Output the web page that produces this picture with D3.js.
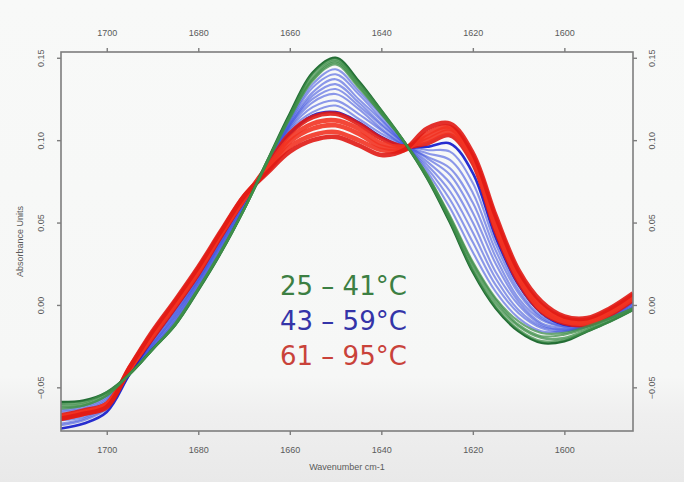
<!DOCTYPE html>
<html>
<head>
<meta charset="utf-8">
<script src="https://cdn.jsdelivr.net/npm/d3@7"></script>
<style>
  html, body { margin: 0; padding: 0; background: #f8f9f8; }
  svg { display: block; }
</style>
</head>
<body>
<svg id="chart" width="684" height="482"></svg>
<script>
// ---------- data ----------
const wavenumbers = [1710,1705,1700,1695,1690,1685,1680,1675,1670,1665,1660,1655,1650,1645,1640,1635,1630,1625,1620,1615,1610,1605,1600,1595,1590,1585];

const green25 = [-0.059,-0.058,-0.053,-0.042,-0.027,-0.012,0.009,0.032,0.058,0.087,0.116,0.141,0.150,0.136,0.118,0.099,0.077,0.050,0.020,-0.002,-0.016,-0.023,-0.022,-0.016,-0.010,-0.003];
const green29 = [-0.060,-0.059,-0.053,-0.042,-0.027,-0.012,0.009,0.032,0.058,0.087,0.115,0.140,0.149,0.135,0.118,0.099,0.077,0.051,0.021,-0.001,-0.015,-0.022,-0.021,-0.016,-0.010,-0.003];
const green33 = [-0.061,-0.060,-0.054,-0.042,-0.027,-0.012,0.010,0.032,0.058,0.087,0.114,0.138,0.148,0.134,0.117,0.099,0.078,0.052,0.023,0.001,-0.013,-0.020,-0.020,-0.015,-0.009,-0.003];
const green37 = [-0.062,-0.061,-0.055,-0.042,-0.027,-0.011,0.010,0.033,0.058,0.086,0.114,0.137,0.147,0.133,0.116,0.099,0.079,0.053,0.025,0.003,-0.012,-0.019,-0.018,-0.014,-0.008,-0.002];
const green41 = [-0.063,-0.061,-0.055,-0.042,-0.027,-0.011,0.010,0.033,0.058,0.086,0.113,0.136,0.146,0.132,0.116,0.099,0.079,0.054,0.026,0.004,-0.010,-0.017,-0.017,-0.013,-0.008,-0.002];

const blue43 = [-0.064,-0.062,-0.056,-0.042,-0.026,-0.010,0.011,0.034,0.059,0.086,0.112,0.134,0.143,0.130,0.115,0.099,0.081,0.059,0.032,0.008,-0.008,-0.016,-0.016,-0.013,-0.008,-0.002];
const blue45 = [-0.065,-0.063,-0.057,-0.042,-0.026,-0.009,0.012,0.035,0.059,0.086,0.111,0.132,0.140,0.128,0.113,0.098,0.083,0.064,0.038,0.012,-0.005,-0.014,-0.016,-0.013,-0.008,-0.001];
const blue47 = [-0.067,-0.064,-0.058,-0.042,-0.025,-0.008,0.013,0.036,0.060,0.085,0.110,0.129,0.137,0.125,0.112,0.098,0.085,0.069,0.044,0.016,-0.003,-0.013,-0.015,-0.013,-0.007,-0.001];
const blue49 = [-0.068,-0.065,-0.059,-0.042,-0.024,-0.007,0.014,0.037,0.060,0.085,0.109,0.127,0.134,0.123,0.110,0.098,0.087,0.074,0.050,0.020,0.000,-0.012,-0.015,-0.013,-0.007,0.000];
const blue51 = [-0.069,-0.066,-0.060,-0.042,-0.024,-0.006,0.015,0.038,0.061,0.085,0.109,0.125,0.131,0.121,0.109,0.098,0.089,0.079,0.056,0.025,0.002,-0.011,-0.014,-0.013,-0.007,0.001];
const blue53 = [-0.070,-0.068,-0.061,-0.042,-0.023,-0.005,0.015,0.038,0.062,0.085,0.108,0.123,0.128,0.119,0.107,0.097,0.090,0.083,0.062,0.029,0.004,-0.009,-0.013,-0.012,-0.007,0.001];
const blue55 = [-0.072,-0.069,-0.062,-0.042,-0.022,-0.004,0.016,0.039,0.062,0.085,0.107,0.120,0.124,0.116,0.106,0.097,0.092,0.088,0.068,0.033,0.007,-0.008,-0.013,-0.012,-0.007,0.002];
const blue57 = [-0.073,-0.070,-0.063,-0.042,-0.021,-0.003,0.017,0.040,0.063,0.084,0.106,0.117,0.121,0.113,0.104,0.097,0.094,0.093,0.074,0.037,0.009,-0.007,-0.012,-0.012,-0.006,0.002];
const blue59 = [-0.075,-0.072,-0.065,-0.042,-0.021,-0.002,0.018,0.041,0.063,0.084,0.104,0.115,0.117,0.111,0.102,0.096,0.096,0.098,0.080,0.041,0.012,-0.005,-0.012,-0.012,-0.006,0.003];

const red61 = [-0.067,-0.064,-0.060,-0.039,-0.020,-0.001,0.019,0.042,0.064,0.084,0.104,0.114,0.116,0.110,0.101,0.096,0.098,0.103,0.086,0.045,0.014,-0.004,-0.011,-0.012,-0.006,0.003];
const red69 = [-0.068,-0.065,-0.060,-0.039,-0.019,0.000,0.020,0.043,0.064,0.083,0.101,0.110,0.112,0.107,0.098,0.096,0.100,0.105,0.088,0.047,0.016,-0.003,-0.010,-0.011,-0.005,0.004];
const red77 = [-0.068,-0.065,-0.061,-0.039,-0.018,0.001,0.021,0.044,0.065,0.082,0.099,0.107,0.109,0.104,0.096,0.095,0.102,0.107,0.089,0.050,0.018,-0.001,-0.009,-0.010,-0.004,0.005];
const red85 = [-0.069,-0.066,-0.061,-0.038,-0.017,0.002,0.022,0.044,0.066,0.081,0.096,0.103,0.105,0.100,0.094,0.094,0.104,0.108,0.090,0.052,0.019,0.000,-0.008,-0.009,-0.003,0.006];
const red95 = [-0.069,-0.066,-0.062,-0.038,-0.016,0.003,0.023,0.045,0.066,0.080,0.093,0.100,0.102,0.097,0.091,0.094,0.107,0.110,0.092,0.054,0.021,0.002,-0.007,-0.008,-0.002,0.007];

const greenSeries = [green25, green29, green33, green37, green41];
const blueSeries = [blue43, blue45, blue47, blue49, blue51, blue53, blue55, blue57, blue59];
const redSeries = [red61, red69, red77, red85, red95];

const xTicks = [1700, 1680, 1660, 1640, 1620, 1600];
const yTicks = [-0.05, 0.00, 0.05, 0.10, 0.15];
const legendLabels = ["25 – 41°C", "43 – 59°C", "61 – 95°C"];
const xTitle = "Wavenumber cm-1";
const yTitle = "Absorbance Units";

// ---------- layout ----------
const W = 684, H = 482;
const plot = { left: 61, right: 633, top: 52, bottom: 431 };

const svg = d3.select("#chart");

const defs = svg.append("defs");
const grad = defs.append("linearGradient").attr("id", "bg").attr("x1", 0).attr("y1", 0).attr("x2", 0).attr("y2", 1);
grad.append("stop").attr("offset", "0%").attr("stop-color", "#f8f9f8");
grad.append("stop").attr("offset", "78%").attr("stop-color", "#f6f7f6");
grad.append("stop").attr("offset", "86%").attr("stop-color", "#efefef");
grad.append("stop").attr("offset", "100%").attr("stop-color", "#e9e9e9");
svg.append("rect").attr("width", W).attr("height", H).attr("fill", "url(#bg)");

defs.append("clipPath").attr("id", "clip").append("rect")
  .attr("x", plot.left).attr("y", plot.top)
  .attr("width", plot.right - plot.left).attr("height", plot.bottom - plot.top);

const x = d3.scaleLinear().domain([1710, 1585]).range([plot.left, plot.right]);
const y = d3.scaleLinear().domain([-0.0765, 0.1535]).range([plot.bottom, plot.top]);

const line = d3.line()
  .x((d, i) => x(wavenumbers[i]))
  .y(d => y(d))
  .curve(d3.curveCatmullRom.alpha(0.5));

const g = svg.append("g").attr("clip-path", "url(#clip)");

// blue lines
g.selectAll("path.blue").data(blueSeries).join("path")
  .attr("class", "blue")
  .attr("d", line)
  .attr("fill", "none")
  .attr("stroke", (d, i) => (i === blueSeries.length - 1 ? "#1a22cc" : "#4257e0"))
  .attr("stroke-opacity", (d, i) => (i === blueSeries.length - 1 ? 0.95 : 0.6))
  .attr("stroke-width", (d, i) => (i === blueSeries.length - 1 ? 2.6 : 2.1));

// red lines
g.selectAll("path.red").data(redSeries).join("path")
  .attr("class", "red")
  .attr("d", line)
  .attr("fill", "none")
  .attr("stroke", (d, i) => (i === 0 || i === redSeries.length - 1 ? "#e01a14" : "#f23322"))
  .attr("stroke-opacity", 0.9)
  .attr("stroke-width", 4.6);

// green lines
g.selectAll("path.green").data(greenSeries).join("path")
  .attr("class", "green")
  .attr("d", line)
  .attr("fill", "none")
  .attr("stroke", (d, i) => (i === 0 ? "#17652a" : "#3f8f49"))
  .attr("stroke-opacity", (d, i) => (i === 0 ? 0.95 : 0.75))
  .attr("stroke-width", (d, i) => (i === 0 ? 2.6 : 2.2));

// ---------- frame and axes ----------
const axisColor = "#7d7d7d";
const textColor = "#5a5a5a";
const tickFont = "Liberation Sans, Arial, sans-serif";

svg.append("rect")
  .attr("x", plot.left).attr("y", plot.top)
  .attr("width", plot.right - plot.left).attr("height", plot.bottom - plot.top)
  .attr("fill", "none").attr("stroke", axisColor).attr("stroke-width", 1.6);

function styleAxis(sel) {
  sel.select(".domain").remove();
  sel.selectAll(".tick line").attr("stroke", axisColor).attr("stroke-width", 1.4);
  sel.selectAll(".tick text").attr("fill", textColor).attr("font-family", tickFont).attr("font-size", 9);
}

svg.append("g").attr("transform", `translate(0,${plot.top})`)
  .call(d3.axisTop(x).tickValues(xTicks).tickSize(4).tickPadding(12).tickFormat(d3.format("d")))
  .call(styleAxis);

svg.append("g").attr("transform", `translate(0,${plot.bottom})`)
  .call(d3.axisBottom(x).tickValues(xTicks).tickSize(4).tickPadding(12).tickFormat(d3.format("d")))
  .call(styleAxis);

const fmtY = d3.format(".2f");
const leftAx = svg.append("g").attr("transform", `translate(${plot.left},0)`)
  .call(d3.axisLeft(y).tickValues(yTicks).tickSize(4).tickFormat(fmtY))
  .call(styleAxis);
leftAx.selectAll(".tick text")
  .attr("x", 0).attr("dy", null)
  .attr("text-anchor", "middle")
  .attr("transform", "translate(-20,0) rotate(-90)")
  .attr("y", 3);

const rightAx = svg.append("g").attr("transform", `translate(${plot.right},0)`)
  .call(d3.axisRight(y).tickValues(yTicks).tickSize(4).tickFormat(fmtY))
  .call(styleAxis);
rightAx.selectAll(".tick text")
  .attr("x", 0).attr("dy", null)
  .attr("text-anchor", "middle")
  .attr("transform", "translate(19,0) rotate(-90)")
  .attr("y", 3);

// axis titles
svg.append("text")
  .attr("x", (plot.left + plot.right) / 2).attr("y", 470)
  .attr("text-anchor", "middle")
  .attr("font-family", tickFont).attr("font-size", 9).attr("fill", textColor)
  .text(xTitle);

svg.append("text")
  .attr("transform", `translate(23,${(plot.top + plot.bottom) / 2}) rotate(-90)`)
  .attr("text-anchor", "middle")
  .attr("font-family", tickFont).attr("font-size", 9).attr("fill", textColor)
  .text(yTitle);

// ---------- temperature labels ----------
const legendColors = ["#3c7f43", "#3434a8", "#c9423a"];
svg.selectAll("text.legend").data(legendLabels).join("text")
  .attr("class", "legend")
  .attr("x", 280)
  .attr("y", (d, i) => 295 + i * 35)
  .attr("font-family", "DejaVu Sans, Verdana, sans-serif")
  .attr("font-size", 26)
  .attr("fill", (d, i) => legendColors[i])
  .text(d => d);
</script>
</body>
</html>
